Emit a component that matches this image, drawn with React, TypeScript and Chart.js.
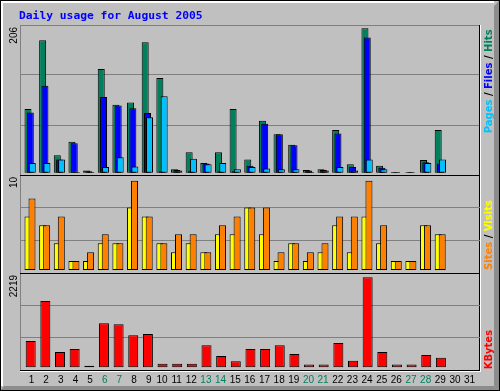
import React, { useEffect, useRef } from "react";
import { Chart, registerables } from "chart.js";

Chart.register(...registerables);

// ---------- data ----------
const TITLE = "Daily usage for August 2005";
const dayLabels = ["1","2","3","4","5","6","7","8","9","10","11","12","13","14","15","16","17","18","19","20","21","22","23","24","25","26","27","28","29","30","31"];
const weekendDays = [6, 7, 13, 14, 20, 21, 27, 28];

const hits   = [91,189,25,44,3,148,97,100,186,135,5,29,14,29,91,19,74,55,40,4,5,61,12,206,10,1,1,18,61,0,0];
const files  = [86,124,19,42,2,108,96,92,85,2,4,2,13,2,2,10,70,55,39,3,4,56,8,193,7,1,1,15,13,0,0];
const pages  = [14,14,19,1,1,8,22,9,79,109,3,20,12,14,5,8,6,5,5,1,3,8,3,19,5,0,0,14,19,0,0];

const visits = [6,5,3,1,1,3,3,7,6,3,2,3,2,4,4,7,4,1,3,1,2,5,2,6,3,1,1,5,4,0,0];
const sites  = [8,5,6,1,2,4,3,10,6,3,4,4,2,5,6,7,7,2,3,2,3,6,6,10,5,1,1,5,4,0,0];

const kbytes = [649,1635,378,452,40,1085,1060,789,822,90,90,90,542,279,148,452,452,542,329,66,66,600,164,2219,378,66,66,304,238,0,0];

// ---------- style / layout ----------
const C_HITS = "#00805C";
const C_FILES = "#0000FF";
const C_PAGES = "#00C0FF";
const C_VISITS = "#FFFF00";
const C_SITES = "#FF8000";
const C_KB = "#FF0000";
const C_BG = "#C0C0C0";
const C_GRID = "#808080";
const C_DK = "#808080";

const W = 500, H = 391;
const LEFT = 20, RIGHT = 480;
const P1 = { top: 25, bottom: 175 };
const P2 = { top: 175, bottom: 273 };
const P3 = { top: 273, bottom: 370 };
const PX_PER_DAY = 14.65;
const FIRST_TICK_PX = 30.1;
const X_MIN = 1 - (FIRST_TICK_PX - LEFT) / PX_PER_DAY;
const X_MAX = X_MIN + (RIGHT - LEFT) / PX_PER_DAY;

const off = (px: number) => px / PX_PER_DAY;

function series(vals: number[], dx: number) {
  return vals.map((v, i) => ({ x: i + 1 + off(dx), y: v }));
}

function xScale(show: boolean): any {
  return {
    type: "linear",
    display: show,
    min: X_MIN,
    max: X_MAX,
    offset: false,
    grid: { display: false, drawTicks: false },
    border: { display: false },
    afterBuildTicks: (s: any) => {
      s.ticks = dayLabels.map((_, i) => ({ value: i + 1 }));
    },
    ticks: {
      display: show,
      autoSkip: false,
      maxRotation: 0,
      minRotation: 0,
      padding: 4,
      font: { family: "Liberation Sans", size: 10 },
      color: (c: any) => (weekendDays.includes(c.tick?.value) ? C_HITS : "#000000"),
      callback: (v: any) => {
        const l = dayLabels[Math.round(v) - 1] ?? "";
        return l.length < 2 ? " " + l : l;
      },
    },
    afterFit: (s: any) => {
      s.height = show ? 16 : 0;
    },
  };
}

function yScale(min: number, max: number): any {
  return {
    type: "linear",
    display: true,
    min,
    max,
    grid: {
      drawTicks: false,
      lineWidth: 1,
      color: (c: any) => (c.index === 1 || c.index === 2 ? C_GRID : "rgba(0,0,0,0)"),
    },
    border: { display: false },
    ticks: { display: false },
    afterBuildTicks: (s: any) => {
      const r = max - min;
      s.ticks = [0, 1, 2, 3].map((k) => ({ value: min + (r * k) / 3 }));
    },
    afterFit: (s: any) => {
      s.width = 0;
    },
  };
}

function bar(label: string, vals: number[], dx: number, color: string, thick: number, order: number): any {
  return {
    label,
    data: series(vals, dx),
    backgroundColor: color,
    borderColor: "#000000",
    borderWidth: 1,
    borderSkipped: false,
    barThickness: thick,
    grouped: false,
    inflateAmount: 0,
    order,
  };
}

function upText(ctx: CanvasRenderingContext2D, x: number, y: number, parts: [string, string][], font: string, align: CanvasTextAlign = "left") {
  ctx.save();
  ctx.translate(x, y);
  ctx.rotate(-Math.PI / 2);
  ctx.font = font;
  ctx.textBaseline = "alphabetic";
  ctx.textAlign = "left";
  let total = 0;
  for (const [t] of parts) total += ctx.measureText(t).width;
  let pos = align === "right" ? -total : 0;
  for (const [t, c] of parts) {
    ctx.fillStyle = c;
    ctx.fillText(t, pos, 0);
    pos += ctx.measureText(t).width;
  }
  ctx.restore();
}

function line(ctx: CanvasRenderingContext2D, x1: number, y1: number, x2: number, y2: number, color: string) {
  ctx.strokeStyle = color;
  ctx.lineWidth = 1;
  ctx.beginPath();
  ctx.moveTo(x1, y1);
  ctx.lineTo(x2, y2);
  ctx.stroke();
}

const decorPlugin: any = {
  id: "decor",
  beforeDraw(chart: any) {
    const ctx: CanvasRenderingContext2D = chart.ctx;
    ctx.save();
    ctx.fillStyle = C_BG;
    ctx.fillRect(0, 0, W, H);
    // outer bevel
    ctx.fillStyle = "#8C8C8C";
    ctx.beginPath();
    ctx.moveTo(W, 0); ctx.lineTo(W, H); ctx.lineTo(W - 6, H - 5); ctx.lineTo(W - 6, 6); ctx.closePath();
    ctx.fill();
    ctx.beginPath();
    ctx.moveTo(0, H); ctx.lineTo(W, H); ctx.lineTo(W - 6, H - 5); ctx.lineTo(4, H - 5); ctx.closePath();
    ctx.fill();
    ctx.fillStyle = "#FFFFFF";
    ctx.fillRect(1, 1, W - 7, 2);
    ctx.fillRect(1, 1, 2, H - 6);
    ctx.strokeStyle = "#000000";
    ctx.lineWidth = 1;
    ctx.strokeRect(0.5, 0.5, W - 1, H - 1);
    // title
    ctx.font = 'bold 11.3px "DejaVu Sans Mono"';
    ctx.fillStyle = "#0000FF";
    ctx.textBaseline = "alphabetic";
    ctx.textAlign = "left";
    ctx.fillText(TITLE, 19, 18.5);
    ctx.restore();
  },
  afterDraw(chart: any) {
    const ctx: CanvasRenderingContext2D = chart.ctx;
    ctx.save();
    // frame
    line(ctx, LEFT, P1.top + 0.5, RIGHT, P1.top + 0.5, C_DK);
    line(ctx, LEFT + 0.5, P1.top, LEFT + 0.5, P3.bottom, C_DK);
    line(ctx, LEFT, P2.top + 0.5, RIGHT, P2.top + 0.5, "#000000");
    line(ctx, LEFT, P3.top + 0.5, RIGHT, P3.top + 0.5, "#000000");
    line(ctx, LEFT, P3.bottom + 0.5, RIGHT, P3.bottom + 0.5, "#000000");
    line(ctx, RIGHT - 0.5, P1.top, RIGHT - 0.5, P3.bottom + 1, "#000000");
    line(ctx, RIGHT + 0.5, P1.top, RIGHT + 0.5, P3.bottom + 2, "#FFFFFF");
    line(ctx, LEFT, P3.bottom + 1.5, RIGHT + 1, P3.bottom + 1.5, "#FFFFFF");
    // max labels
    const f = '10px "Liberation Sans"';
    upText(ctx, 17, P1.top + 2, [[String(Math.max(...hits)), "#000000"]], f, "right");
    upText(ctx, 17, P2.top + 2, [[String(Math.max(...sites, ...visits)), "#000000"]], f, "right");
    upText(ctx, 17, P3.top + 2, [[String(Math.max(...kbytes)), "#000000"]], f, "right");
    // right legends
    const lf = 'bold 10px "DejaVu Sans"';
    upText(ctx, 492, 133.3, [["Pages", C_PAGES], [" / ", "#000000"], ["Files", C_FILES], [" / ", "#000000"], ["Hits", C_HITS]], lf);
    upText(ctx, 492, 270, [["Sites", C_SITES], [" / ", "#000000"], ["Visits", C_VISITS]], lf);
    upText(ctx, 492, 369.3, [["KBytes", C_KB]], lf);
    ctx.restore();
  },
};

function baseOptions(panel: { top: number; bottom: number }, ymin: number, ymax: number, showX: boolean): any {
  return {
    responsive: false,
    maintainAspectRatio: false,
    animation: false,
    devicePixelRatio: 1,
    layout: {
      padding: {
        left: LEFT,
        right: W - RIGHT,
        top: panel.top,
        bottom: H - panel.bottom - (showX ? 16 : 0),
      },
    },
    plugins: { legend: { display: false }, tooltip: { enabled: false }, title: { display: false } },
    scales: { x: xScale(showX), y: yScale(ymin, ymax) },
  };
}

export default function App() {
  const r1 = useRef<HTMLCanvasElement>(null);
  const r2 = useRef<HTMLCanvasElement>(null);
  const r3 = useRef<HTMLCanvasElement>(null);

  useEffect(() => {
    document.body.style.margin = "0";
    const c1 = new Chart(r1.current!, {
      type: "bar",
      data: {
        datasets: [
          bar("Hits", hits, -2.1, C_HITS, 7, 3),
          bar("Files", files, 0.2, C_FILES, 7, 2),
          bar("Pages", pages, 2.2, C_PAGES, 7, 1),
        ],
      },
      options: baseOptions(P1, -3.28, 210.7, false),
      plugins: [decorPlugin],
    });
    const c2 = new Chart(r2.current!, {
      type: "bar",
      data: {
        datasets: [
          bar("Visits", visits, -2.1, C_VISITS, 7, 2),
          bar("Sites", sites, 1.9, C_SITES, 7, 1),
        ],
      },
      options: baseOptions(P2, -0.336, 10.638, false),
    });
    const c3 = new Chart(r3.current!, {
      type: "bar",
      data: {
        datasets: [bar("KBytes", kbytes, 0.6, C_KB, 10, 1)],
      },
      options: baseOptions(P3, -66.6, 2325, true),
    });
    return () => {
      c1.destroy();
      c2.destroy();
      c3.destroy();
    };
  }, []);

  const cs: React.CSSProperties = { position: "absolute", left: 0, top: 0, width: W, height: H };
  return (
    <div style={{ position: "fixed", left: 0, top: 0, width: W, height: H, overflow: "hidden" }}>
      <canvas ref={r1} width={W} height={H} style={cs} />
      <canvas ref={r2} width={W} height={H} style={cs} />
      <canvas ref={r3} width={W} height={H} style={cs} />
    </div>
  );
}
